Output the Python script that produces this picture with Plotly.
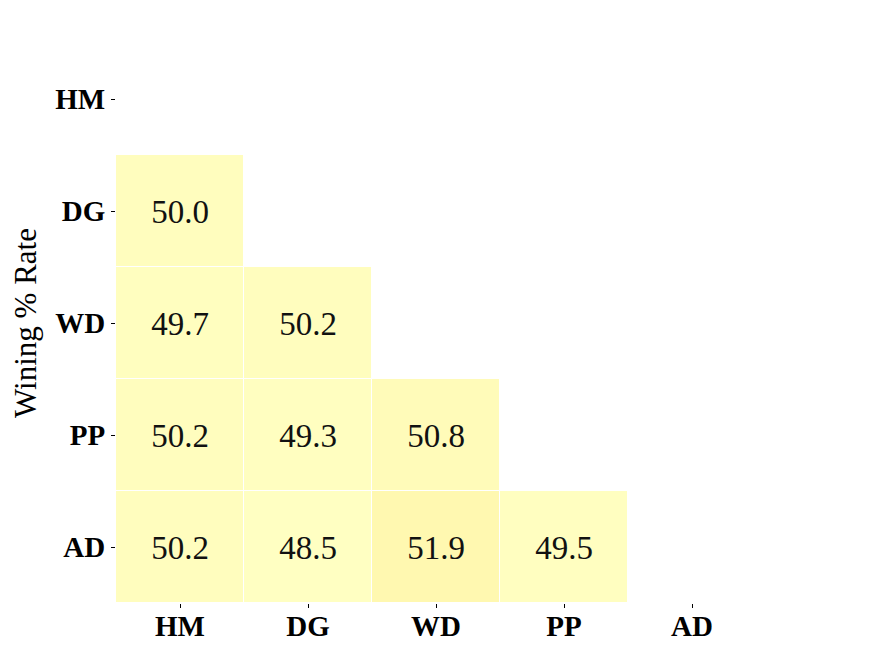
import plotly.graph_objects as go

labels = ["HM", "DG", "WD", "PP", "AD"]
# rows = y (top to bottom), cols = x; None = masked
win_rate = [
    [None, None, None, None, None],
    [50.0, None, None, None, None],
    [49.7, 50.2, None, None, None],
    [50.2, 49.3, 50.8, None, None],
    [50.2, 48.5, 51.9, 49.5, None],
]

serif = "Liberation Serif, DejaVu Serif, serif"

fig = go.Figure(
    go.Heatmap(
        z=win_rate, x=labels, y=labels,
        colorscale=[[0, "#FFFFC2"], [0.5, "#FFFDBE"], [1, "#FFF8B0"]],
        zmin=48.5, zmax=51.9, showscale=False,
        xgap=1, ygap=1,
        texttemplate="%{z:.1f}",
        textfont=dict(family=serif, size=33, color="#111"),
        hoverongaps=False,
    )
)

# page body has an 8px margin, so margins are offset by 8px
fig.update_layout(
    width=871, height=646,
    margin=dict(l=108, r=123, t=35, b=51),
    plot_bgcolor="white", paper_bgcolor="white",
    font=dict(family=serif, color="black"),
)
fig.update_xaxes(
    showgrid=False, zeroline=False, showline=False, automargin=False,
    ticks="outside", ticklen=4, tickcolor="black",
    tickfont=dict(size=29, family=serif), ticklabelstandoff=-7,
    tickprefix="<b>", ticksuffix="</b>",
)
fig.update_yaxes(
    autorange="reversed", showgrid=False, zeroline=False, showline=False,
    automargin=False,
    ticks="outside", ticklen=4, tickcolor="black",
    tickfont=dict(size=29, family=serif),
    tickprefix="<b>", ticksuffix="</b>",
    title=dict(text="Wining % Rate", font=dict(size=31, family=serif), standoff=18),
)

fig.write_html("out.html")
